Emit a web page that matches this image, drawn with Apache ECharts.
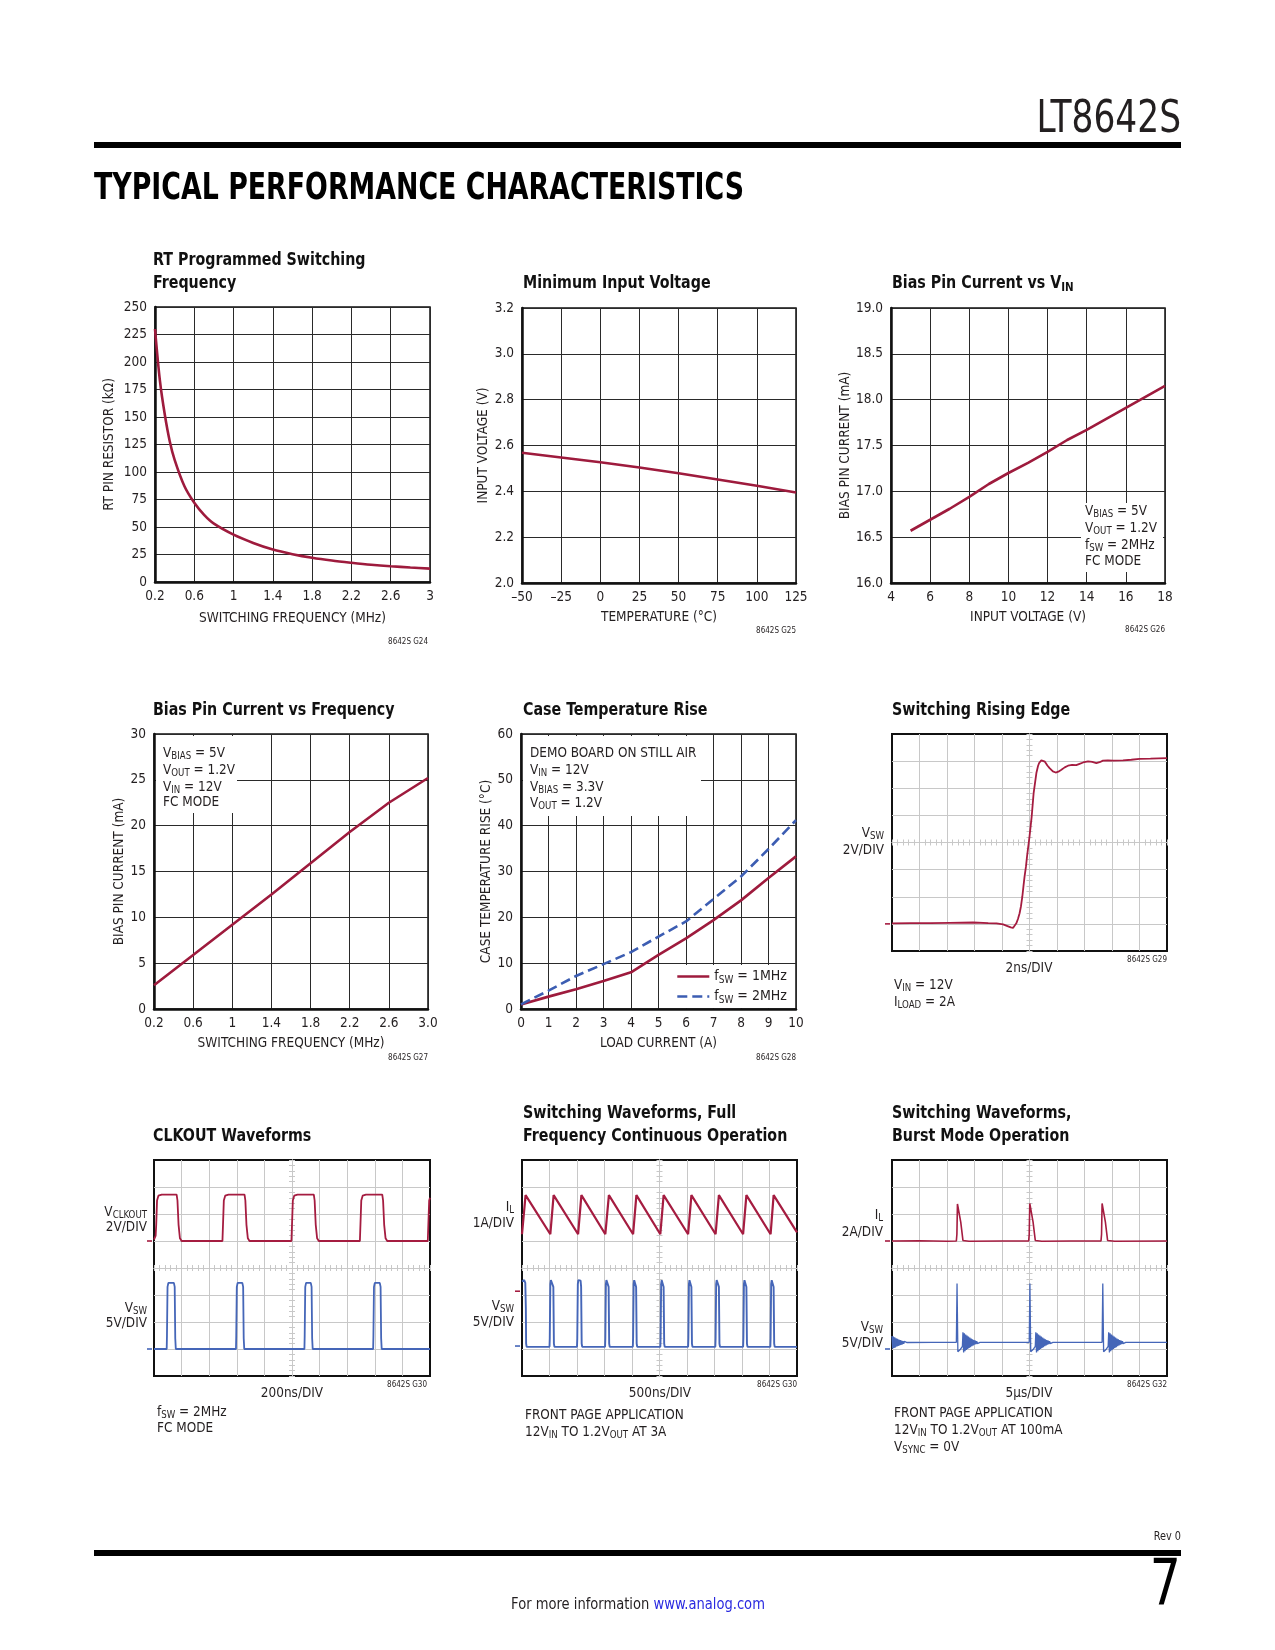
<!DOCTYPE html>
<html><head><meta charset="utf-8">
<script src="https://cdn.jsdelivr.net/npm/echarts@6/dist/echarts.min.js"></script>
<style>html,body{margin:0;padding:0;background:#fff}#c{width:1275px;height:1650px}</style>
</head><body><div id="c"></div>
<script>
// ================= DATA =================
// Chart 1: RT Programmed Switching Frequency
const rtFreq = [0.2,0.25,0.3,0.35,0.4,0.5,0.6,0.7,0.8,1.0,1.2,1.4,1.6,1.8,2.0,2.2,2.4,2.6,2.8,3.0];
const rtRes  = [230,183,152,128,111,87,72,61,53,43,35.5,29.5,25.3,22,19.5,17.5,15.7,14.3,13.2,12.2];
const rtTicks = [0.2,0.6,1,1.4,1.8,2.2,2.6,3];
const rtTickLabels = ['0.2','0.6','1','1.4','1.8','2.2','2.6','3'];
// Chart 2: Minimum Input Voltage
const minVTemp = [-50,-25,0,25,50,75,100,125];
const minV     = [2.568,2.548,2.527,2.504,2.479,2.452,2.424,2.395];
// Chart 3: Bias Pin Current vs VIN
const biasVin  = [5,6,7,8,9,10,11,12,13,14,15,16,17,18];
const biasVinI = [16.57,16.69,16.81,16.94,17.08,17.2,17.31,17.43,17.56,17.67,17.79,17.91,18.03,18.15];
// Chart 4: Bias Pin Current vs Frequency
const biasFreq  = [0.2,0.6,1.0,1.4,1.8,2.2,2.6,3.0];
const biasFreqI = [2.6,5.9,9.2,12.5,15.9,19.3,22.5,25.2];
const bfTicks = [0.2,0.6,1,1.4,1.8,2.2,2.6,3];
const bfTickLabels = ['0.2','0.6','1','1.4','1.8','2.2','2.6','3.0'];
// Chart 5: Case Temperature Rise
const loadA    = [0,1,2,3,4,5,6,7,8,9,10];
const rise1MHz = [1.0,2.7,4.3,6.1,8.0,11.8,15.4,19.4,23.7,28.6,33.3];
const rise2MHz = [1.0,4.0,7.2,9.8,12.4,15.8,19.1,24.0,28.9,34.9,41.2];
// Scope traces: [x div from centre, y div from centre]
const edgeTrace = [[-5,-2.98],[-4.3,-2.97],[-3.6,-2.97],[-2.9,-2.96],[-2.05,-2.95],[-1.5,-2.97],[-1.2,-2.98],[-0.96,-3.02],[-0.8,-3.08],[-0.68,-3.13],[-0.6,-3.15],[-0.54,-3.1],[-0.48,-2.98],[-0.42,-2.82],[-0.36,-2.61],[-0.31,-2.35],[-0.26,-1.99],[-0.22,-1.62],[-0.18,-1.26],[-0.13,-0.9],[-0.09,-0.52],[0.0,0.22],[0.08,0.96],[0.15,1.82],[0.25,2.56],[0.31,2.82],[0.35,2.93],[0.43,3.03],[0.5,3.02],[0.56,2.98],[0.65,2.84],[0.73,2.74],[0.85,2.62],[0.95,2.58],[1.05,2.61],[1.16,2.68],[1.28,2.77],[1.4,2.83],[1.55,2.86],[1.7,2.85],[1.82,2.9],[1.95,2.95],[2.13,2.99],[2.28,2.97],[2.43,2.93],[2.55,2.96],[2.67,3.02],[2.85,3.03],[3.04,3.02],[3.4,3.03],[3.7,3.05],[4.0,3.08],[4.4,3.09],[4.7,3.1],[5,3.11]];
const edgeGround = -3;
const clkRed = [[-5,1.05],[-4.94,1.2],[-4.92,1.6],[-4.89,2.5],[-4.84,2.68],[-4.72,2.72],[-4.18,2.72],[-4.15,2.5],[-4.11,1.6],[-4.06,1.1],[-4.0,1.0],
 [-2.52,1.0],[-2.5,1.6],[-2.47,2.5],[-2.42,2.68],[-2.3,2.72],[-1.72,2.72],[-1.69,2.5],[-1.65,1.6],[-1.6,1.1],[-1.54,1.0],
 [-0.02,1.0],[0.0,1.6],[0.03,2.5],[0.08,2.68],[0.2,2.72],[0.79,2.72],[0.82,2.5],[0.86,1.6],[0.91,1.1],[0.97,1.0],
 [2.46,1.0],[2.48,1.6],[2.51,2.5],[2.56,2.68],[2.68,2.72],[3.27,2.72],[3.3,2.5],[3.34,1.6],[3.39,1.1],[3.45,1.0],
 [4.92,1.0],[4.94,1.6],[4.97,2.5],[5,2.6]];
const clkBlue = [[-5,-3],[-4.54,-3],[-4.53,-2.5],[-4.51,-0.7],[-4.48,-0.55],[-4.28,-0.55],[-4.25,-0.7],[-4.23,-2.6],[-4.21,-3],
 [-2.03,-3],[-2.02,-2.5],[-2.0,-0.7],[-1.97,-0.55],[-1.8,-0.55],[-1.77,-0.7],[-1.75,-2.6],[-1.73,-3],
 [0.45,-3],[0.46,-2.5],[0.48,-0.7],[0.51,-0.55],[0.68,-0.55],[0.71,-0.7],[0.73,-2.6],[0.75,-3],
 [2.94,-3],[2.95,-2.5],[2.97,-0.7],[3.0,-0.55],[3.18,-0.55],[3.21,-0.7],[3.23,-2.6],[3.25,-3],[5,-3]];
const clkRedGround = 1.0, clkBlueGround = -3.0;
const fcRed = [[-5,1.25],[-4.87,2.7],[-3.97,1.25],[-3.85,2.7],[-2.96,1.25],[-2.84,2.7],[-1.97,1.25],[-1.84,2.7],[-0.96,1.25],[-0.84,2.7],[0.03,1.25],[0.15,2.7],[1.04,1.25],[1.16,2.7],[2.04,1.25],[2.16,2.7],[3.04,1.25],[3.16,2.7],[4.04,1.25],[4.15,2.7],[5,1.32]];
const fcBlue = [[-5,-0.5],[-4.92,-0.45],[-4.88,-0.55],[-4.86,-1.5],[-4.85,-2.8],[-4.83,-2.92],
 [-4.0,-2.92],[-3.99,-2.6],[-3.97,-0.6],[-3.95,-0.45],[-3.88,-0.47],[-3.86,-0.7],[-3.84,-2.8],[-3.82,-2.92],
 [-3.0,-2.92],[-2.99,-2.6],[-2.97,-0.6],[-2.95,-0.45],[-2.87,-0.47],[-2.85,-0.7],[-2.83,-2.8],[-2.81,-2.92],
 [-1.98,-2.92],[-1.97,-2.6],[-1.95,-0.6],[-1.93,-0.45],[-1.87,-0.47],[-1.85,-0.7],[-1.83,-2.8],[-1.81,-2.92],
 [-0.97,-2.92],[-0.96,-2.6],[-0.94,-0.6],[-0.92,-0.45],[-0.87,-0.47],[-0.85,-0.7],[-0.83,-2.8],[-0.81,-2.92],
 [0.03,-2.92],[0.04,-2.6],[0.06,-0.6],[0.08,-0.45],[0.13,-0.47],[0.15,-0.7],[0.17,-2.8],[0.19,-2.92],
 [1.04,-2.92],[1.05,-2.6],[1.07,-0.6],[1.09,-0.45],[1.14,-0.47],[1.16,-0.7],[1.18,-2.8],[1.2,-2.92],
 [2.03,-2.92],[2.04,-2.6],[2.06,-0.6],[2.08,-0.45],[2.14,-0.47],[2.16,-0.7],[2.18,-2.8],[2.2,-2.92],
 [3.04,-2.92],[3.05,-2.6],[3.07,-0.6],[3.09,-0.45],[3.14,-0.47],[3.16,-0.7],[3.18,-2.8],[3.2,-2.92],
 [4.03,-2.92],[4.04,-2.6],[4.06,-0.6],[4.08,-0.45],[4.13,-0.47],[4.15,-0.7],[4.17,-2.8],[4.19,-2.92],[5,-2.92]];
const fcRedGround = -0.86, fcBlueGround = -2.89;
const bmRed = [[-5,1.0],[-4,1.01],[-3,0.99],[-2.66,1.0],[-2.64,1.25],[-2.62,2.37],[-2.6,2.3],[-2.5,1.7],[-2.42,1.02],[-2.36,0.97],[-2.2,0.99],[-1,1.0],
 [-0.03,1.0],[-0.01,1.25],[0.01,2.39],[0.03,2.32],[0.13,1.7],[0.21,1.02],[0.27,0.97],[0.45,0.99],[1.5,1.0],
 [2.6,1.0],[2.62,1.25],[2.64,2.39],[2.66,2.32],[2.76,1.7],[2.84,1.02],[2.9,0.97],[3.1,0.99],[5,1.0]];
const bmBlue = [[-5,-2.52],[-4.975,-2.99],[-4.95,-2.54],[-4.925,-2.96],[-4.9,-2.57],[-4.875,-2.94],[-4.85,-2.6],[-4.825,-2.91],[-4.8,-2.62],[-4.775,-2.89],[-4.75,-2.65],[-4.725,-2.87],[-4.7,-2.67],[-4.675,-2.85],[-4.65,-2.69],[-4.625,-2.83],[-4.6,-2.71],[-4.575,-2.81],[-4.55,-2.72],[-4.525,-2.79],[-4.5,-2.74],[-4.45,-2.76],
 [-3.5,-2.755],[-2.66,-2.75],[-2.645,-2.7],[-2.635,-0.57],[-2.62,-0.62],[-2.605,-3.1],[-2.58,-3.12],[-2.52,-3.02],[-2.46,-2.98],[-2.44,-2.9],
 [-2.42,-2.38],[-2.395,-3.13],[-2.37,-2.42],[-2.345,-3.08],[-2.32,-2.46],[-2.295,-3.04],[-2.27,-2.5],[-2.245,-3.0],[-2.22,-2.54],[-2.195,-2.96],[-2.17,-2.58],[-2.145,-2.93],[-2.12,-2.61],[-2.095,-2.9],[-2.07,-2.64],[-2.045,-2.87],[-2.02,-2.67],[-1.995,-2.84],[-1.97,-2.69],[-1.945,-2.82],[-1.92,-2.71],[-1.895,-2.8],[-1.87,-2.73],[-1.845,-2.78],[-1.8,-2.755],
 [-0.9,-2.755],[-0.01,-2.75],[0.005,-2.7],[0.015,-0.57],[0.03,-0.62],[0.045,-3.1],[0.07,-3.12],[0.13,-3.02],[0.19,-2.98],[0.21,-2.9],
 [0.23,-2.38],[0.255,-3.13],[0.28,-2.42],[0.305,-3.08],[0.33,-2.46],[0.355,-3.04],[0.38,-2.5],[0.405,-3.0],[0.43,-2.54],[0.455,-2.96],[0.48,-2.58],[0.505,-2.93],[0.53,-2.61],[0.555,-2.9],[0.58,-2.64],[0.605,-2.87],[0.63,-2.67],[0.655,-2.84],[0.68,-2.69],[0.705,-2.82],[0.73,-2.71],[0.755,-2.8],[0.78,-2.73],[0.805,-2.78],[0.85,-2.755],
 [1.8,-2.755],[2.64,-2.75],[2.655,-2.7],[2.665,-0.57],[2.68,-0.62],[2.695,-3.1],[2.72,-3.12],[2.78,-3.02],[2.84,-2.98],[2.86,-2.9],
 [2.88,-2.38],[2.905,-3.13],[2.93,-2.42],[2.955,-3.08],[2.98,-2.46],[3.005,-3.04],[3.03,-2.5],[3.055,-3.0],[3.08,-2.54],[3.105,-2.96],[3.13,-2.58],[3.155,-2.93],[3.18,-2.61],[3.205,-2.9],[3.23,-2.64],[3.255,-2.87],[3.28,-2.67],[3.305,-2.84],[3.33,-2.69],[3.355,-2.82],[3.38,-2.71],[3.405,-2.8],[3.43,-2.73],[3.455,-2.78],[3.5,-2.755],[5,-2.755]];
const bmRedGround = 1.0, bmBlueGround = -3.0;

// ================= STYLE =================
const FONT = "'Liberation Sans Narrow','Arial Narrow','DejaVu Sans Condensed',Roboto,sans-serif";
const INK = '#231f20';
const GRIDC = '#2a2a2a';
const RED = '#9e1b3d';
const BLUE = '#3c5db2';
const SRED = '#a51c40';
const SBLUE = '#4566b8';
const SCOPEGRID = '#c8c8c8';

const gridBoxes = [
  {left:155, top:307, width:275, height:275},
  {left:522, top:308, width:274, height:275},
  {left:891, top:308, width:274, height:275},
  {left:154, top:734, width:274, height:275},
  {left:521, top:734, width:275, height:275},
  {left:892, top:734, width:275, height:217},
  {left:154, top:1160, width:276, height:216},
  {left:522, top:1160, width:275, height:216},
  {left:892, top:1160, width:275, height:216}
];
const grids = gridBoxes.map((g,i)=>Object.assign({show:true, backgroundColor:'rgba(0,0,0,0)', borderColor:'#111', borderWidth: i<5?1.5:2, containLabel:false, outerBoundsMode:'none'}, g));

function customFmt(custom, labels){
  return v => { const k = custom.findIndex(t=>Math.abs(t-v)<1e-6); return k<0?'':labels[k]; };
}
function stdAxis(dim, gi, o){
  const a = {gridIndex:gi, type:'value', position: dim==='x'?'bottom':'left', min:o.min, max:o.max,
    name:o.name, nameLocation:'middle', nameGap:o.nameGap, nameMoveOverlap:false,
    nameTextStyle:{fontFamily:FONT, fontSize:13.5, color:INK},
    axisLine:{show:true, onZero:false, lineStyle:{color:'#111', width:2.5}},
    axisTick:{show:false},
    axisLabel:{show:true, margin: dim==='x'?7:8, fontFamily:FONT, fontSize:13.5, color:INK, showMinLabel:true, showMaxLabel:true, hideOverlap:false},
    splitLine:{show:true, lineStyle:{color:GRIDC, width:1}}};
  if (o.interval != null) a.interval = o.interval;
  if (o.custom){ a.axisTick.customValues = o.custom; a.axisLabel.customValues = o.custom; a.axisLabel.formatter = customFmt(o.custom, o.labels); }
  if (o.fmt) a.axisLabel.formatter = o.fmt;
  return a;
}
function scopeAxes(dim, gi){
  const tick = {color:SCOPEGRID, width:1};
  return [false,true].map((inside,k)=>({gridIndex:gi, type:'value', position: dim==='x'?'bottom':'left',
    min: dim==='x'?-5:-4, max: dim==='x'?5:4, interval:1,
    axisLine:{show:true, onZero:true, lineStyle:{color:SCOPEGRID, width:1}},
    axisTick:{show:true, inside:inside, length:3, lineStyle:tick},
    minorTick:{show:true, splitNumber:5, length:3, lineStyle:tick},
    axisLabel:{show:false},
    splitLine:{show:k===0, showMinLine:false, showMaxLine:false, lineStyle:{color:SCOPEGRID, width:1}},
    minorSplitLine:{show:false}}));
}

const xAxes = [
  stdAxis('x',0,{min:0.2,max:3,custom:rtTicks,labels:rtTickLabels,name:'SWITCHING FREQUENCY (MHz)',nameGap:29}),
  stdAxis('x',1,{min:-50,max:125,interval:25,fmt:v=>v<0?'\u2013'+Math.abs(v):String(v),name:'TEMPERATURE (°C)',nameGap:27}),
  stdAxis('x',2,{min:4,max:18,interval:2,name:'INPUT VOLTAGE (V)',nameGap:27}),
  stdAxis('x',3,{min:0.2,max:3,custom:bfTicks,labels:bfTickLabels,name:'SWITCHING FREQUENCY (MHz)',nameGap:27}),
  stdAxis('x',4,{min:0,max:10,interval:1,name:'LOAD CURRENT (A)',nameGap:27})
].concat(scopeAxes('x',5), scopeAxes('x',6), scopeAxes('x',7), scopeAxes('x',8));
const yAxes = [
  stdAxis('y',0,{min:0,max:250,interval:25,name:'RT PIN RESISTOR (kΩ)',nameGap:39}),
  stdAxis('y',1,{min:2.0,max:3.2,interval:0.2,fmt:v=>v.toFixed(1),name:'INPUT VOLTAGE (V)',nameGap:32}),
  stdAxis('y',2,{min:16,max:19,interval:0.5,fmt:v=>v.toFixed(1),name:'BIAS PIN CURRENT (mA)',nameGap:39}),
  stdAxis('y',3,{min:0,max:30,interval:5,name:'BIAS PIN CURRENT (mA)',nameGap:28}),
  stdAxis('y',4,{min:0,max:60,interval:10,name:'CASE TEMPERATURE RISE (°C)',nameGap:28})
].concat(scopeAxes('y',5), scopeAxes('y',6), scopeAxes('y',7), scopeAxes('y',8));

function zip(xs, ys){ return xs.map((x,i)=>[x, ys[i]]); }
function line(ax, data, color, width, extra){
  return Object.assign({type:'line', xAxisIndex:ax, yAxisIndex:ax, data:data, symbol:'none', showSymbol:false,
    lineStyle:{color:color, width:width}, itemStyle:{color:color}, silent:true, animation:false}, extra||{});
}
function ground(level, color){
  return {symbol:'rect', symbolSize:[5,1.6], symbolOffset:[-4.5,0], silent:true, label:{show:false},
    itemStyle:{color:color}, data:[{coord:[-5, level]}]};
}
const sAx = gi => 5 + 2*(gi-5);

const series = [
  line(0, zip(rtFreq, rtRes), RED, 2.6, {smooth:0.3, name:'rt'}),
  line(1, zip(minVTemp, minV), RED, 2.6, {name:'minv'}),
  line(2, zip(biasVin, biasVinI), RED, 2.6, {name:'bvin'}),
  line(3, zip(biasFreq, biasFreqI), RED, 2.6, {name:'bfreq'}),
  line(4, zip(loadA, rise1MHz), RED, 2.6, {name:'fSW = 1MHz'}),
  line(4, zip(loadA, rise2MHz), BLUE, 2.6, {name:'fSW = 2MHz', lineStyle:{color:BLUE, width:2.6, type:[10,5]}}),
  line(sAx(5), edgeTrace, SRED, 1.8, {name:'edge', markPoint: ground(edgeGround, SRED)}),
  line(sAx(6), clkRed, SRED, 1.8, {name:'clkr', markPoint: ground(clkRedGround, SRED)}),
  line(sAx(6), clkBlue, SBLUE, 1.8, {name:'clkb', markPoint: ground(clkBlueGround, SBLUE)}),
  line(sAx(7), fcRed, SRED, 2.2, {name:'fcr', markPoint: ground(fcRedGround, SRED)}),
  line(sAx(7), fcBlue, SBLUE, 1.9, {name:'fcb', markPoint: ground(fcBlueGround, SBLUE)}),
  line(sAx(8), bmRed, SRED, 1.6, {name:'bmr', markPoint: ground(bmRedGround, SRED)}),
  line(sAx(8), bmBlue, SBLUE, 1.3, {name:'bmb', markPoint: ground(bmBlueGround, SBLUE)})
];

// ================= TEXT =================
function txt(t, x, y, o){
  o = o || {};
  const size = o.size || 14;
  const base = {fontFamily: FONT, fontWeight: o.weight || 'normal', fill: o.fill || INK};
  const sub = Object.assign({}, base, {fontSize: Math.round(size*0.74), lineHeight:size+2, padding:[Math.round(size*0.5),0,0,0]});
  const link = Object.assign({}, base, {fontSize:size, lineHeight:size+2, fill:'#2a2ae0'});
  return {type:'text', z:10, silent:true, x:x, y:y, scaleX:o.scaleX||1,
    style: Object.assign({text:t, x:0, y:0, fontSize:size, lineHeight:size+2,
      align:o.align||'left', textAlign:o.align||'left', verticalAlign:'middle', textVerticalAlign:'middle',
      rich:{s:sub, b:link}}, base)};
}
function box(x,y,w,h){ return {type:'rect', z:5, silent:true, shape:{x:x,y:y,width:w,height:h}, style:{fill:'#fff'}}; }
function bar(x,y,w,h){ return {type:'rect', z:5, silent:true, shape:{x:x,y:y,width:w,height:h}, style:{fill:'#000'}}; }

const headStr = 'TYPICAL PERFORMANCE CHARACTERISTICS';
const mctx = document.createElement('canvas').getContext('2d');
mctx.font = "bold 38px " + FONT;
const headScale = 650 / mctx.measureText(headStr).width;

const T = {size:18, weight:'bold', fill:'#111', scaleX:0.88};
const S = {size:14, scaleX:0.96};
const SR = {size:14, align:'right', scaleX:0.96};
const SC = {size:14, align:'center', scaleX:0.96};
const G = {size:8, align:'right'};
const graphics = [
  txt('LT8642S', 1181, 121, {size:44, align:'right', scaleX:0.87}),
  bar(94,142,1087,6),
  txt(headStr, 94, 189, {size:38, weight:'bold', fill:'#000', scaleX:headScale}),
  bar(94,1550,1087,6),
  txt('Rev 0', 1181, 1537, {size:12, align:'right', scaleX:0.9}),
  txt('7', 1181, 1588, {size:64, align:'right', fill:'#000', scaleX:0.85}),
  txt('For more information {b|www.analog.com}', 638, 1605, {size:16, align:'center', scaleX:0.91}),
  // titles
  txt('RT Programmed Switching', 153, 260, T),
  txt('Frequency', 153, 283, T),
  txt('Minimum Input Voltage', 523, 283, T),
  txt('Bias Pin Current vs V{s|IN}', 892, 283, T),
  txt('Bias Pin Current vs Frequency', 153, 710, T),
  txt('Case Temperature Rise', 523, 710, T),
  txt('Switching Rising Edge', 892, 710, T),
  txt('CLKOUT Waveforms', 153, 1136, T),
  txt('Switching Waveforms, Full', 523, 1113, T),
  txt('Frequency Continuous Operation', 523, 1136, T),
  txt('Switching Waveforms,', 892, 1113, T),
  txt('Burst Mode Operation', 892, 1136, T),
  // figure codes
  txt('8642S G24', 428, 642, G),
  txt('8642S G25', 796, 631, G),
  txt('8642S G26', 1165, 630, G),
  txt('8642S G27', 428, 1058, G),
  txt('8642S G28', 796, 1058, G),
  txt('8642S G29', 1167, 960, G),
  txt('8642S G30', 427, 1385, G),
  txt('8642S G30', 797, 1385, G),
  txt('8642S G32', 1167, 1385, G),
  // chart 3 annotation
  box(1081,503,82,69),
  txt('V{s|BIAS} = 5V', 1085, 511, S),
  txt('V{s|OUT} = 1.2V', 1085, 528, S),
  txt('f{s|SW} = 2MHz', 1085, 545, S),
  txt('FC MODE', 1085, 561, S),
  // chart 4 annotation
  box(156,736,81,77),
  txt('V{s|BIAS} = 5V', 163, 753, S),
  txt('V{s|OUT} = 1.2V', 163, 770, S),
  txt('V{s|IN} = 12V', 163, 787, S),
  txt('FC MODE', 163, 802, S),
  // chart 5 annotation
  box(523,736,178,80),
  txt('DEMO BOARD ON STILL AIR', 530, 753, S),
  txt('V{s|IN} = 12V', 530, 770, S),
  txt('V{s|BIAS} = 3.3V', 530, 787, S),
  txt('V{s|OUT} = 1.2V', 530, 803, S),
  // chart 6 labels
  txt('V{s|SW}', 884, 833, SR),
  txt('2V/DIV', 884, 850, SR),
  txt('2ns/DIV', 1029, 968, SC),
  txt('V{s|IN} = 12V', 894, 985, S),
  txt('I{s|LOAD} = 2A', 894, 1002, S),
  // chart 7 labels
  txt('V{s|CLKOUT}', 147, 1212, SR),
  txt('2V/DIV', 147, 1227, SR),
  txt('V{s|SW}', 147, 1308, SR),
  txt('5V/DIV', 147, 1323, SR),
  txt('200ns/DIV', 292, 1393, SC),
  txt('f{s|SW} = 2MHz', 157, 1412, S),
  txt('FC MODE', 157, 1428, S),
  // chart 8 labels
  txt('I{s|L}', 514, 1207, SR),
  txt('1A/DIV', 514, 1223, SR),
  txt('V{s|SW}', 514, 1306, SR),
  txt('5V/DIV', 514, 1322, SR),
  txt('500ns/DIV', 660, 1393, SC),
  txt('FRONT PAGE APPLICATION', 525, 1415, S),
  txt('12V{s|IN} TO 1.2V{s|OUT} AT 3A', 525, 1432, S),
  // chart 9 labels
  txt('I{s|L}', 883, 1215, SR),
  txt('2A/DIV', 883, 1232, SR),
  txt('V{s|SW}', 883, 1327, SR),
  txt('5V/DIV', 883, 1343, SR),
  txt('5\u03bcs/DIV', 1029, 1393, SC),
  txt('FRONT PAGE APPLICATION', 894, 1413, S),
  txt('12V{s|IN} TO 1.2V{s|OUT} AT 100mA', 894, 1430, S),
  txt('V{s|SYNC} = 0V', 894, 1447, S)
];

const chart = echarts.init(document.getElementById('c'), null, {renderer:'canvas', width:1275, height:1650});
chart.setOption({
  animation:false,
  backgroundColor:'#fff',
  textStyle:{fontFamily:FONT},
  grid: grids,
  xAxis: xAxes,
  yAxis: yAxes,
  legend: {show:true, orient:'vertical', left:673, top:965, itemWidth:32, itemHeight:12, itemGap:3,
    padding:[3,6,3,3], backgroundColor:'#fff', selectedMode:false, data:['fSW = 1MHz','fSW = 2MHz'],
    itemStyle:{opacity:0}, lineStyle:{width:2.6},
    formatter: n => n.replace('fSW','f{s|SW}'),
    textStyle:{fontFamily:FONT, fontSize:14, color:INK, lineHeight:16,
      rich:{s:{fontFamily:FONT, fontSize:10, color:INK, lineHeight:16, padding:[7,0,0,0]}}}},
  series: series,
  graphic: graphics
});
</script>
</body></html>
